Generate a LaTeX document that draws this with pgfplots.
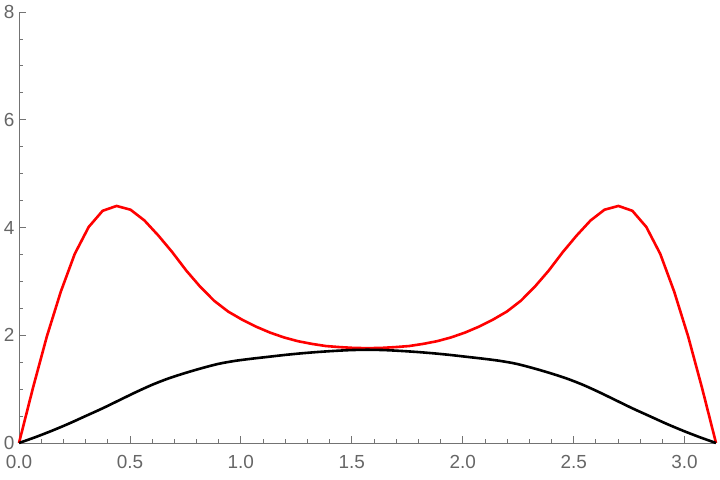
\documentclass[border=0pt]{standalone}
\usepackage{fontspec}
\setmainfont{Liberation Sans}
\usepackage{pgfplots}
\pgfplotsset{compat=1.18}
\definecolor{axisgray}{gray}{0.45}
\definecolor{labelgray}{gray}{0.4}
\begin{document}
\begin{tikzpicture}
\begin{axis}[
  name=ax,
  scale only axis,
  width=697bp, height=431bp,
  xmin=0, xmax=3.14159, ymin=0, ymax=8,
  axis lines=left,
  axis line style={-, axisgray, line width=0.8bp},
  xtick={0,0.5,1.0,1.5,2.0,2.5,3.0},
  ytick={0,2,4,6,8},
  minor x tick num=4, minor y tick num=3,
  tick align=inside,
  major tick length=7bp, minor tick length=4bp,
  tick style={axisgray, line width=0.8bp},
  tick label style={font=\fontsize{19}{19}\selectfont, text=labelgray},
  /pgf/number format/assume math mode=true,
  xticklabel style={yshift=-9bp, /pgf/number format/.cd, fixed, fixed zerofill, precision=1, /tikz/.cd},
  yticklabel style={xshift=-1bp},
  clip=false,
]
% red curve
\addplot[red, line width=2.6bp] coordinates {
(0,0) (0.0628,1.02) (0.1257,1.98) (0.1885,2.81) (0.2513,3.51) (0.3142,4.01)
(0.3770,4.31) (0.4398,4.40) (0.5027,4.33) (0.5655,4.13) (0.6283,3.85)
(0.6912,3.54) (0.7540,3.20) (0.8168,2.90) (0.8796,2.64) (0.9425,2.44)
(1.0053,2.29) (1.0681,2.16) (1.1310,2.05) (1.1938,1.96) (1.2566,1.89)
(1.3195,1.84) (1.3823,1.80) (1.4451,1.78) (1.5080,1.765) (1.5708,1.76)
(1.6336,1.765) (1.6965,1.78) (1.7593,1.80) (1.8221,1.84) (1.8850,1.89)
(1.9478,1.96) (2.0106,2.05) (2.0735,2.16) (2.1363,2.29) (2.1991,2.44)
(2.2619,2.64) (2.3248,2.90) (2.3876,3.20) (2.4504,3.54) (2.5133,3.85)
(2.5761,4.13) (2.6389,4.33) (2.7018,4.40) (2.7646,4.31) (2.8274,4.01)
(2.8903,3.51) (2.9531,2.81) (3.0159,1.98) (3.0788,1.02) (3.1416,0)
};
% black curve
\addplot[black, line width=2.6bp, smooth] coordinates {
(0,0) (0.075,0.11) (0.15,0.23) (0.225,0.36) (0.30,0.50) (0.375,0.64)
(0.45,0.79) (0.525,0.94) (0.60,1.08) (0.675,1.20) (0.75,1.30) (0.825,1.39)
(0.90,1.47) (0.975,1.525) (1.05,1.565) (1.125,1.60) (1.20,1.635) (1.275,1.665)
(1.35,1.69) (1.425,1.71) (1.50,1.725) (1.5708,1.73)
(1.6416,1.725) (1.7166,1.71) (1.7916,1.69) (1.8666,1.665) (1.9416,1.635)
(2.0166,1.60) (2.0916,1.565) (2.1666,1.525) (2.2416,1.47) (2.3166,1.39)
(2.3916,1.30) (2.4666,1.20) (2.5416,1.08) (2.6166,0.94) (2.6916,0.79)
(2.7666,0.64) (2.8416,0.50) (2.9166,0.36) (2.9916,0.23) (3.0666,0.11) (3.1416,0)
};
\end{axis}
\pgfresetboundingbox
\path ([shift={(-19bp,-37bp)}]ax.south west) rectangle ([shift={(4bp,12bp)}]ax.north east);
\end{tikzpicture}
\end{document}
